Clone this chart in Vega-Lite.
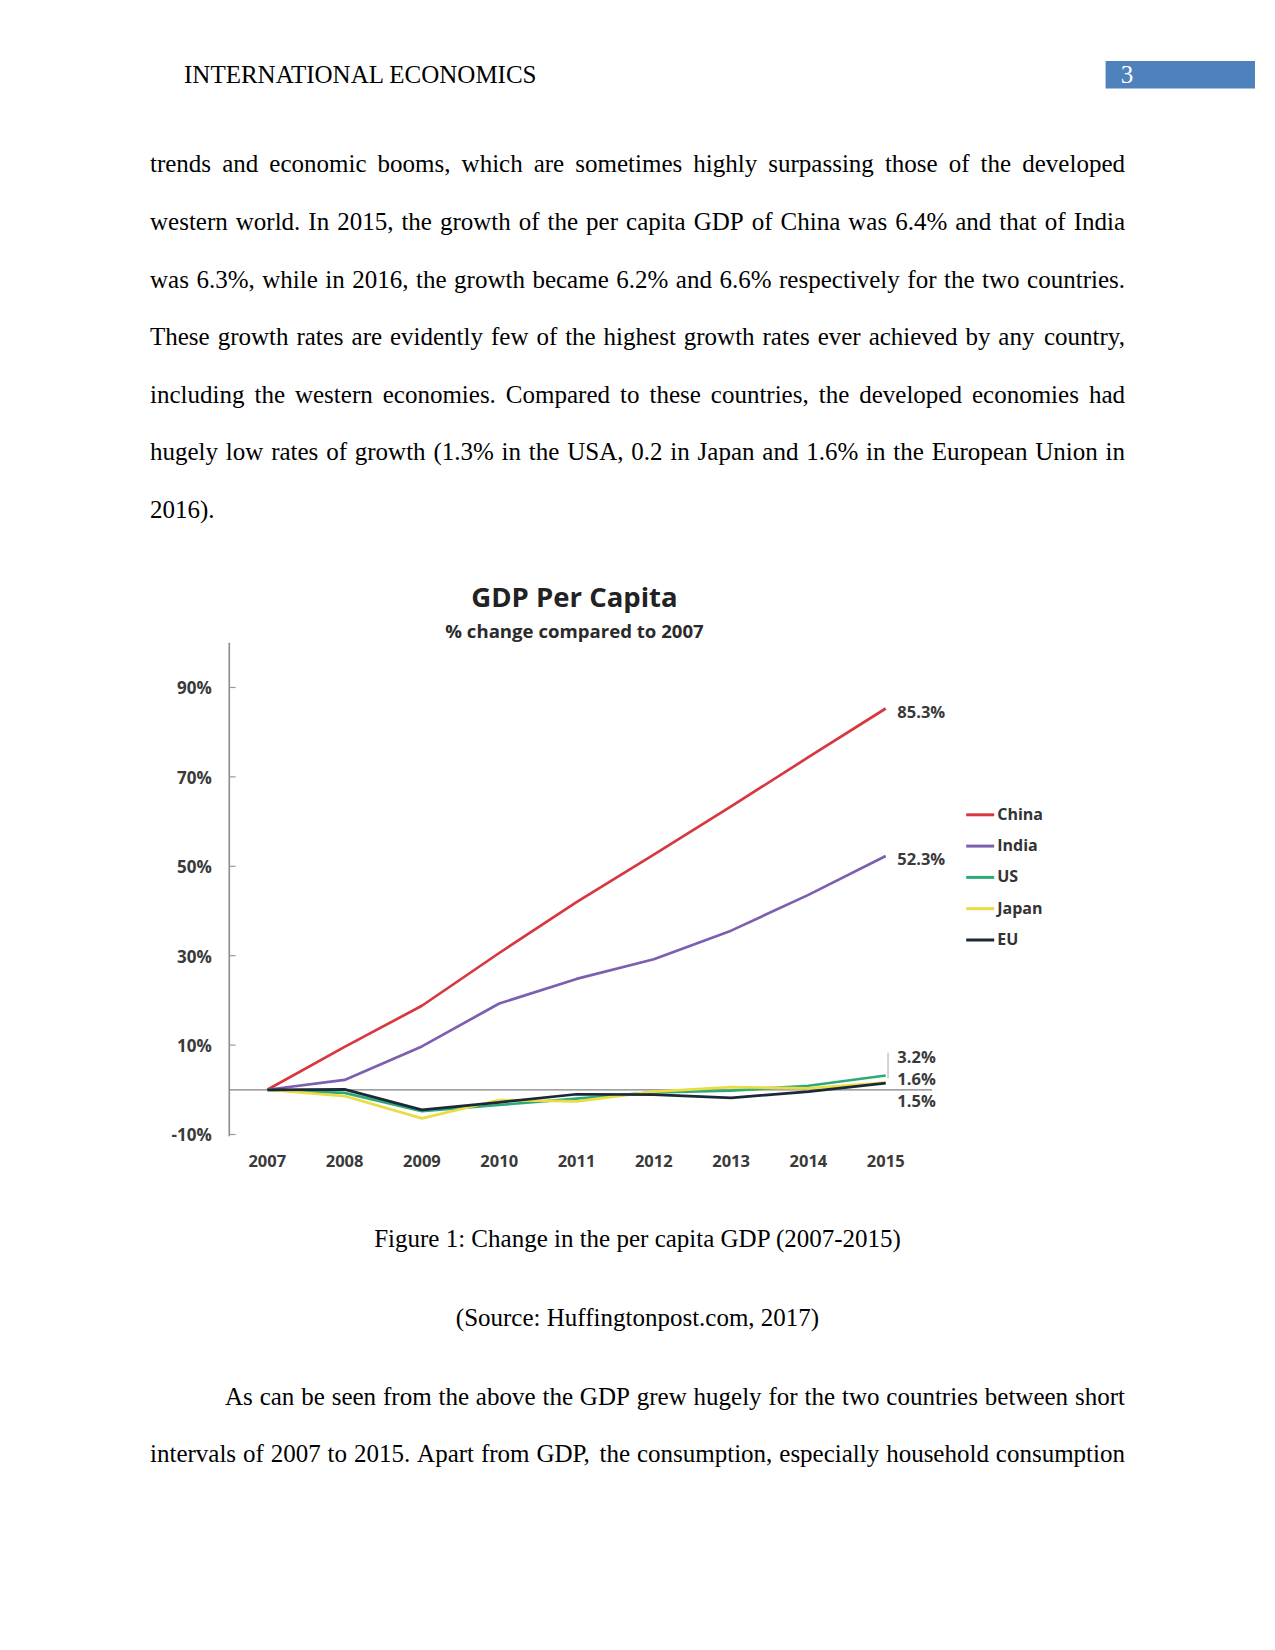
{
  "$schema": "https://vega.github.io/schema/vega-lite/v6.json",
  "width": 1275,
  "height": 1650,
  "autosize": {"type": "fit", "contains": "padding"},
  "padding": 0,
  "background": "white",
  "config": {"view": {"stroke": null}},
  "datasets": {
    "wordsLeft": [
      {"w": "INTERNATIONAL ECONOMICS", "px": 184, "py": 83.3},
      {"w": "trends", "px": 150, "py": 172.3},
      {"w": "and", "px": 222.2, "py": 172.3},
      {"w": "economic", "px": 269.3, "py": 172.3},
      {"w": "booms,", "px": 377.6, "py": 172.3},
      {"w": "which", "px": 461.6, "py": 172.3},
      {"w": "are", "px": 533.7, "py": 172.3},
      {"w": "sometimes", "px": 575.3, "py": 172.3},
      {"w": "highly", "px": 693.3, "py": 172.3},
      {"w": "surpassing", "px": 768.3, "py": 172.3},
      {"w": "those", "px": 884.9, "py": 172.3},
      {"w": "of", "px": 948.7, "py": 172.3},
      {"w": "the", "px": 980.6, "py": 172.3},
      {"w": "western", "px": 150, "py": 230},
      {"w": "world.", "px": 235.75, "py": 230},
      {"w": "In", "px": 308.32, "py": 230},
      {"w": "2015,", "px": 337.14, "py": 230},
      {"w": "the", "px": 401.38, "py": 230},
      {"w": "growth", "px": 439.93, "py": 230},
      {"w": "of", "px": 518.75, "py": 230},
      {"w": "the", "px": 547.57, "py": 230},
      {"w": "per", "px": 586.11, "py": 230},
      {"w": "capita", "px": 626.04, "py": 230},
      {"w": "GDP", "px": 693.73, "py": 230},
      {"w": "of", "px": 751.73, "py": 230},
      {"w": "China", "px": 780.54, "py": 230},
      {"w": "was", "px": 848.27, "py": 230},
      {"w": "6.4%", "px": 895.13, "py": 230},
      {"w": "and", "px": 955.21, "py": 230},
      {"w": "that", "px": 999.3, "py": 230},
      {"w": "of", "px": 1044.8, "py": 230},
      {"w": "was", "px": 150, "py": 287.5},
      {"w": "6.3%,", "px": 196.39, "py": 287.5},
      {"w": "while", "px": 262.22, "py": 287.5},
      {"w": "in", "px": 325.28, "py": 287.5},
      {"w": "2016,", "px": 352.24, "py": 287.5},
      {"w": "the", "px": 416.0, "py": 287.5},
      {"w": "growth", "px": 454.06, "py": 287.5},
      {"w": "became", "px": 532.4, "py": 287.5},
      {"w": "6.2%", "px": 616.26, "py": 287.5},
      {"w": "and", "px": 675.84, "py": 287.5},
      {"w": "6.6%", "px": 719.45, "py": 287.5},
      {"w": "respectively", "px": 779.04, "py": 287.5},
      {"w": "for", "px": 907.35, "py": 287.5},
      {"w": "the", "px": 944.01, "py": 287.5},
      {"w": "two", "px": 982.07, "py": 287.5},
      {"w": "These", "px": 150, "py": 345},
      {"w": "growth", "px": 217.63, "py": 345},
      {"w": "rates", "px": 296.4, "py": 345},
      {"w": "are", "px": 351.53, "py": 345},
      {"w": "evidently", "px": 389.98, "py": 345},
      {"w": "few", "px": 490.97, "py": 345},
      {"w": "of", "px": 536.38, "py": 345},
      {"w": "the", "px": 565.13, "py": 345},
      {"w": "highest", "px": 603.61, "py": 345},
      {"w": "growth", "px": 683.78, "py": 345},
      {"w": "rates", "px": 762.53, "py": 345},
      {"w": "ever", "px": 817.66, "py": 345},
      {"w": "achieved", "px": 868.63, "py": 345},
      {"w": "by", "px": 965.41, "py": 345},
      {"w": "any", "px": 998.34, "py": 345},
      {"w": "including", "px": 150, "py": 402.5},
      {"w": "the", "px": 254.44, "py": 402.5},
      {"w": "western", "px": 294.97, "py": 402.5},
      {"w": "economies.", "px": 382.71, "py": 402.5},
      {"w": "Compared", "px": 505.87, "py": 402.5},
      {"w": "to", "px": 620.01, "py": 402.5},
      {"w": "these", "px": 649.45, "py": 402.5},
      {"w": "countries,", "px": 710.8, "py": 402.5},
      {"w": "the", "px": 818.69, "py": 402.5},
      {"w": "developed", "px": 859.22, "py": 402.5},
      {"w": "economies", "px": 971.96, "py": 402.5},
      {"w": "hugely", "px": 150, "py": 460},
      {"w": "low", "px": 225.85, "py": 460},
      {"w": "rates", "px": 271.15, "py": 460},
      {"w": "of", "px": 326.15, "py": 460},
      {"w": "growth", "px": 354.78, "py": 460},
      {"w": "(1.3%", "px": 433.4, "py": 460},
      {"w": "in", "px": 501.6, "py": 460},
      {"w": "the", "px": 528.85, "py": 460},
      {"w": "USA,", "px": 567.2, "py": 460},
      {"w": "0.2", "px": 631.25, "py": 460},
      {"w": "in", "px": 670.3, "py": 460},
      {"w": "Japan", "px": 697.55, "py": 460},
      {"w": "and", "px": 762.28, "py": 460},
      {"w": "1.6%", "px": 806.18, "py": 460},
      {"w": "in", "px": 866.05, "py": 460},
      {"w": "the", "px": 893.3, "py": 460},
      {"w": "European", "px": 931.65, "py": 460},
      {"w": "Union", "px": 1035.25, "py": 460},
      {"w": "2016).", "px": 150, "py": 517.5},
      {"w": "As", "px": 225, "py": 1404.5},
      {"w": "can", "px": 259.65, "py": 1404.5},
      {"w": "be", "px": 301.22, "py": 1404.5},
      {"w": "seen", "px": 331.69, "py": 1404.5},
      {"w": "from", "px": 382.98, "py": 1404.5},
      {"w": "the", "px": 438.45, "py": 1404.5},
      {"w": "above", "px": 475.87, "py": 1404.5},
      {"w": "the", "px": 542.44, "py": 1404.5},
      {"w": "GDP", "px": 579.86, "py": 1404.5},
      {"w": "grew", "px": 636.73, "py": 1404.5},
      {"w": "hugely", "px": 693.58, "py": 1404.5},
      {"w": "for", "px": 768.5, "py": 1404.5},
      {"w": "the", "px": 804.52, "py": 1404.5},
      {"w": "two", "px": 841.94, "py": 1404.5},
      {"w": "countries", "px": 886.31, "py": 1404.5},
      {"w": "between", "px": 984.83, "py": 1404.5},
      {"w": "intervals", "px": 150, "py": 1462},
      {"w": "of", "px": 242.99, "py": 1462},
      {"w": "2007", "px": 270.71, "py": 1462},
      {"w": "to", "px": 327.6, "py": 1462},
      {"w": "2015.", "px": 353.94, "py": 1462},
      {"w": "Apart", "px": 417.08, "py": 1462},
      {"w": "from", "px": 480.89, "py": 1462},
      {"w": "GDP,", "px": 536.38, "py": 1462},
      {"w": "the", "px": 599.52, "py": 1462},
      {"w": "consumption,", "px": 636.96, "py": 1462},
      {"w": "especially", "px": 779.28, "py": 1462},
      {"w": "household", "px": 886.14, "py": 1462}
    ],
    "wordsRight": [
      {"w": "developed", "px": 1125, "py": 172.3},
      {"w": "India", "px": 1125, "py": 230},
      {"w": "countries.", "px": 1125, "py": 287.5},
      {"w": "country,", "px": 1125, "py": 345},
      {"w": "had", "px": 1125, "py": 402.5},
      {"w": "in", "px": 1125, "py": 460},
      {"w": "short", "px": 1125, "py": 1404.5},
      {"w": "consumption", "px": 1125, "py": 1462}
    ],
    "wordsCenter": [
      {"w": "3", "px": 1127, "py": 83.3, "c": "white"},
      {"w": "Figure 1: Change in the per capita GDP (2007-2015)", "px": 637.5, "py": 1247, "c": "black"},
      {"w": "(Source: Huffingtonpost.com, 2017)", "px": 637.5, "py": 1325.5, "c": "black"}
    ],
    "gdp": [
      {"series": "China", "year": 2007, "value": 0},
      {"series": "China", "year": 2008, "value": 9.6},
      {"series": "China", "year": 2009, "value": 18.8},
      {"series": "China", "year": 2010, "value": 30.6},
      {"series": "China", "year": 2011, "value": 42.0},
      {"series": "China", "year": 2012, "value": 52.6},
      {"series": "China", "year": 2013, "value": 63.4},
      {"series": "China", "year": 2014, "value": 74.4},
      {"series": "China", "year": 2015, "value": 85.3},
      {"series": "India", "year": 2007, "value": 0},
      {"series": "India", "year": 2008, "value": 2.2},
      {"series": "India", "year": 2009, "value": 9.7},
      {"series": "India", "year": 2010, "value": 19.3},
      {"series": "India", "year": 2011, "value": 24.8},
      {"series": "India", "year": 2012, "value": 29.2},
      {"series": "India", "year": 2013, "value": 35.6},
      {"series": "India", "year": 2014, "value": 43.6},
      {"series": "India", "year": 2015, "value": 52.3},
      {"series": "US", "year": 2007, "value": 0},
      {"series": "US", "year": 2008, "value": -0.7},
      {"series": "US", "year": 2009, "value": -4.8},
      {"series": "US", "year": 2010, "value": -3.4},
      {"series": "US", "year": 2011, "value": -2.0},
      {"series": "US", "year": 2012, "value": -0.6},
      {"series": "US", "year": 2013, "value": -0.2},
      {"series": "US", "year": 2014, "value": 0.9},
      {"series": "US", "year": 2015, "value": 3.2},
      {"series": "Japan", "year": 2007, "value": 0},
      {"series": "Japan", "year": 2008, "value": -1.4},
      {"series": "Japan", "year": 2009, "value": -6.4},
      {"series": "Japan", "year": 2010, "value": -2.3},
      {"series": "Japan", "year": 2011, "value": -2.6},
      {"series": "Japan", "year": 2012, "value": -0.4},
      {"series": "Japan", "year": 2013, "value": 0.6},
      {"series": "Japan", "year": 2014, "value": 0.3},
      {"series": "Japan", "year": 2015, "value": 1.6},
      {"series": "EU", "year": 2007, "value": 0},
      {"series": "EU", "year": 2008, "value": 0.1},
      {"series": "EU", "year": 2009, "value": -4.5},
      {"series": "EU", "year": 2010, "value": -2.8},
      {"series": "EU", "year": 2011, "value": -1.0},
      {"series": "EU", "year": 2012, "value": -1.1},
      {"series": "EU", "year": 2013, "value": -1.8},
      {"series": "EU", "year": 2014, "value": -0.4},
      {"series": "EU", "year": 2015, "value": 1.5}
    ],
    "ticks": [
      {"v": 90, "label": "90%"},
      {"v": 70, "label": "70%"},
      {"v": 50, "label": "50%"},
      {"v": 30, "label": "30%"},
      {"v": 10, "label": "10%"},
      {"v": -10, "label": "-10%"}
    ],
    "years": [
      {"year": 2007}, {"year": 2008}, {"year": 2009}, {"year": 2010}, {"year": 2011},
      {"year": 2012}, {"year": 2013}, {"year": 2014}, {"year": 2015}
    ],
    "endLabels": [
      {"label": "85.3%", "pos": 84.4},
      {"label": "52.3%", "pos": 51.3},
      {"label": "3.2%", "pos": 7.0},
      {"label": "1.6%", "pos": 2.1},
      {"label": "1.5%", "pos": -2.8}
    ],
    "one": [{}]
  },
  "layer": [
    {
      "layer": [
        {
          "data": {"name": "one"},
          "mark": {"type": "rect", "color": "#4f81bd"},
          "encoding": {
            "x": {"datum": 1105.6, "type": "quantitative", "scale": {"domain": [0, 1275], "nice": false, "zero": false}, "axis": null},
            "x2": {"datum": 1255},
            "y": {"datum": 61, "type": "quantitative", "scale": {"domain": [0, 1650], "nice": false, "zero": false, "reverse": true}, "axis": null},
            "y2": {"datum": 88.4}
          }
        },
        {
          "data": {"name": "wordsCenter"},
          "mark": {"type": "text", "font": "Liberation Serif", "fontSize": 25, "align": "center", "baseline": "alphabetic"},
          "encoding": {
            "x": {"field": "px", "type": "quantitative", "scale": {"domain": [0, 1275], "nice": false, "zero": false}, "axis": null},
            "y": {"field": "py", "type": "quantitative", "scale": {"domain": [0, 1650], "nice": false, "zero": false, "reverse": true}, "axis": null},
            "text": {"field": "w"},
            "color": {"field": "c", "type": "nominal", "scale": null}
          }
        },
        {
          "data": {"name": "wordsLeft"},
          "mark": {"type": "text", "font": "Liberation Serif", "fontSize": 25, "color": "#000000", "align": "left", "baseline": "alphabetic"},
          "encoding": {
            "x": {"field": "px", "type": "quantitative", "scale": {"domain": [0, 1275], "nice": false, "zero": false}, "axis": null},
            "y": {"field": "py", "type": "quantitative", "scale": {"domain": [0, 1650], "nice": false, "zero": false, "reverse": true}, "axis": null},
            "text": {"field": "w"}
          }
        },
        {
          "data": {"name": "wordsRight"},
          "mark": {"type": "text", "font": "Liberation Serif", "fontSize": 25, "color": "#000000", "align": "right", "baseline": "alphabetic"},
          "encoding": {
            "x": {"field": "px", "type": "quantitative", "scale": {"domain": [0, 1275], "nice": false, "zero": false}, "axis": null},
            "y": {"field": "py", "type": "quantitative", "scale": {"domain": [0, 1650], "nice": false, "zero": false, "reverse": true}, "axis": null},
            "text": {"field": "w"}
          }
        }
      ]
    },
    {
      "layer": [
        {
          "data": {"name": "one"},
          "mark": {"type": "rule", "color": "#8c8c8c", "strokeWidth": 1.6},
          "encoding": {
            "x": {"datum": 2006.508, "type": "quantitative", "scale": {"domain": [2003.542, 2020.036], "nice": false, "zero": false}, "axis": null},
            "y": {"datum": 100, "type": "quantitative", "scale": {"domain": [-125.33, 243.8], "nice": false, "zero": false}, "axis": null},
            "y2": {"datum": -10.4}
          }
        },
        {
          "data": {"name": "one"},
          "mark": {"type": "rule", "color": "#808080", "strokeWidth": 1.3},
          "encoding": {
            "x": {"datum": 2006.508, "type": "quantitative", "scale": {"domain": [2003.542, 2020.036], "nice": false, "zero": false}, "axis": null},
            "x2": {"datum": 2015.6},
            "y": {"datum": 0, "type": "quantitative", "scale": {"domain": [-125.33, 243.8], "nice": false, "zero": false}, "axis": null}
          }
        },
        {
          "data": {"name": "ticks"},
          "mark": {"type": "rule", "color": "#9a9a9a", "strokeWidth": 1.2},
          "encoding": {
            "x": {"datum": 2006.508, "type": "quantitative", "scale": {"domain": [2003.542, 2020.036], "nice": false, "zero": false}, "axis": null},
            "x2": {"datum": 2006.59},
            "y": {"field": "v", "type": "quantitative", "scale": {"domain": [-125.33, 243.8], "nice": false, "zero": false}, "axis": null}
          }
        },
        {
          "data": {"name": "ticks"},
          "mark": {"type": "text", "font": "Open Sans", "fontWeight": "bold", "fontSize": 17, "color": "#3a3a3a", "align": "right", "baseline": "middle", "dy": 2},
          "encoding": {
            "x": {"datum": 2006.281, "type": "quantitative", "scale": {"domain": [2003.542, 2020.036], "nice": false, "zero": false}, "axis": null},
            "y": {"field": "v", "type": "quantitative", "scale": {"domain": [-125.33, 243.8], "nice": false, "zero": false}, "axis": null},
            "text": {"field": "label"}
          }
        },
        {
          "data": {"name": "years"},
          "mark": {"type": "text", "font": "Open Sans", "fontWeight": "bold", "fontSize": 16.5, "color": "#3a3a3a", "align": "center", "baseline": "middle"},
          "encoding": {
            "x": {"field": "year", "type": "quantitative", "scale": {"domain": [2003.542, 2020.036], "nice": false, "zero": false}, "axis": null},
            "y": {"datum": -16.2, "type": "quantitative", "scale": {"domain": [-125.33, 243.8], "nice": false, "zero": false}, "axis": null},
            "text": {"field": "year", "format": "d"}
          }
        },
        {
          "data": {"name": "gdp"},
          "mark": {"type": "line", "strokeWidth": 2.7, "strokeJoin": "round"},
          "encoding": {
            "x": {"field": "year", "type": "quantitative", "scale": {"domain": [2003.542, 2020.036], "nice": false, "zero": false}, "axis": null},
            "y": {"field": "value", "type": "quantitative", "scale": {"domain": [-125.33, 243.8], "nice": false, "zero": false}, "axis": null},
            "color": {
              "field": "series",
              "type": "nominal",
              "scale": {"domain": ["China", "India", "US", "Japan", "EU"], "range": ["#d7373d", "#7d5fb0", "#2eaa78", "#e9dc45", "#1b2838"]},
              "sort": ["China", "India", "US", "Japan", "EU"],
              "legend": {
                "orient": "none",
                "legendX": 964.7,
                "legendY": 799.3,
                "title": null,
                "padding": 0,
                "symbolType": "stroke",
                "symbolSize": 784,
                "symbolStrokeWidth": 3,
                "labelFont": "Open Sans",
                "labelFontWeight": "bold",
                "labelFontSize": 16,
                "labelColor": "#333333",
                "labelOffset": 1.5,
                "rowPadding": 7.3
              }
            }
          }
        },
        {
          "data": {"name": "endLabels"},
          "mark": {"type": "text", "font": "Open Sans", "fontWeight": "bold", "fontSize": 16.5, "color": "#3a3a3a", "align": "left", "baseline": "middle"},
          "encoding": {
            "x": {"datum": 2015.15, "type": "quantitative", "scale": {"domain": [2003.542, 2020.036], "nice": false, "zero": false}, "axis": null},
            "y": {"field": "pos", "type": "quantitative", "scale": {"domain": [-125.33, 243.8], "nice": false, "zero": false}, "axis": null},
            "text": {"field": "label"}
          }
        },
        {
          "data": {"name": "one"},
          "mark": {"type": "rule", "color": "#aaaaaa", "strokeWidth": 1},
          "encoding": {
            "x": {"datum": 2015.03, "type": "quantitative", "scale": {"domain": [2003.542, 2020.036], "nice": false, "zero": false}, "axis": null},
            "y": {"datum": 8.3, "type": "quantitative", "scale": {"domain": [-125.33, 243.8], "nice": false, "zero": false}, "axis": null},
            "y2": {"datum": 2.6}
          }
        },
        {
          "data": {"name": "one"},
          "mark": {"type": "text", "text": "GDP Per Capita", "font": "Open Sans", "fontWeight": "bold", "fontSize": 27.5, "color": "#222222", "align": "center", "baseline": "alphabetic"},
          "encoding": {
            "x": {"datum": 2010.974, "type": "quantitative", "scale": {"domain": [2003.542, 2020.036], "nice": false, "zero": false}, "axis": null},
            "y": {"datum": 108.1, "type": "quantitative", "scale": {"domain": [-125.33, 243.8], "nice": false, "zero": false}, "axis": null}
          }
        },
        {
          "data": {"name": "one"},
          "mark": {"type": "text", "text": "% change compared to 2007", "font": "Open Sans", "fontWeight": "bold", "fontSize": 18.6, "color": "#2a2a2a", "align": "center", "baseline": "alphabetic"},
          "encoding": {
            "x": {"datum": 2010.974, "type": "quantitative", "scale": {"domain": [2003.542, 2020.036], "nice": false, "zero": false}, "axis": null},
            "y": {"datum": 101.1, "type": "quantitative", "scale": {"domain": [-125.33, 243.8], "nice": false, "zero": false}, "axis": null}
          }
        }
      ]
    }
  ],
  "resolve": {"scale": {"x": "independent", "y": "independent"}}
}
